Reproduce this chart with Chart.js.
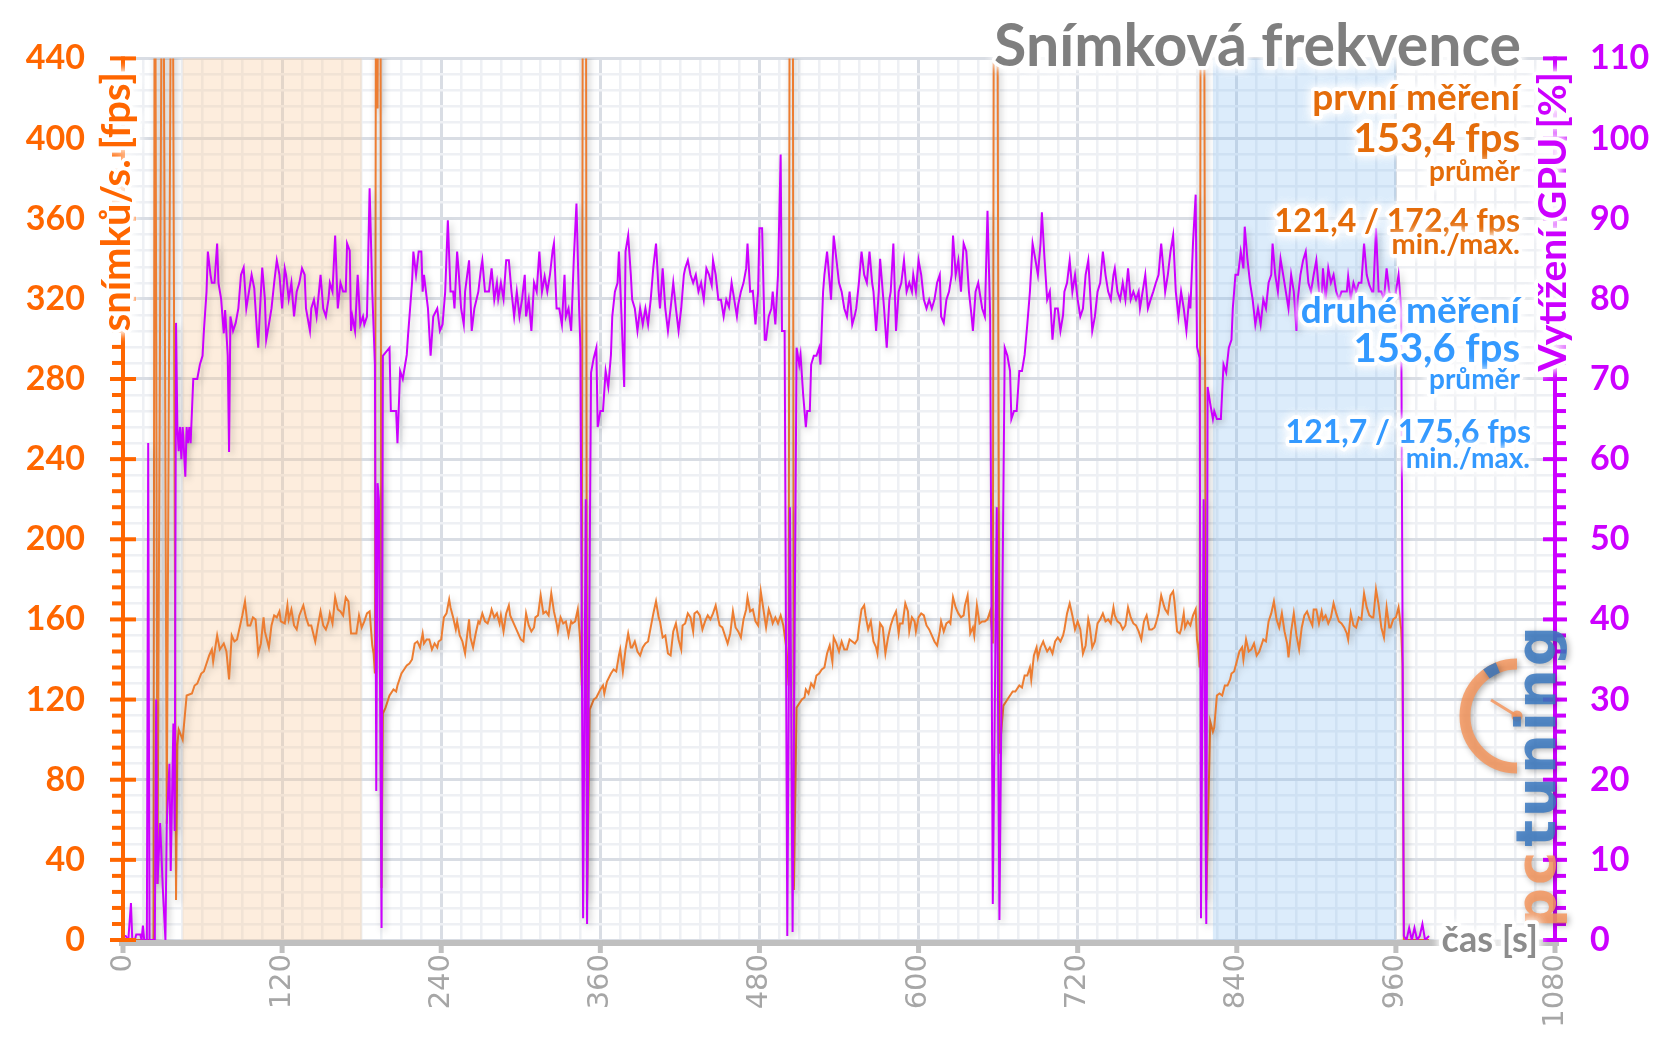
<!DOCTYPE html>
<html>
<head>
<meta charset="utf-8">
<script src="https://cdn.jsdelivr.net/npm/chart.js@4.4.1/dist/chart.umd.min.js"></script>
<style>
html,body{margin:0;padding:0;background:#fff;}
canvas{display:block;}
</style>
</head>
<body>
<canvas id="c" width="1656" height="1044"></canvas>
<script>
// ---- data ----
const fpsTime = [0,5,10,15,20,23,24,26,30,33,37,40,41,42,45,48,52,54,56,59,61,63,65,67,68,71,73,76,78,80,82,84,86,88,90,92,94,96,98,100,102,104,106,107,110,112,114,116,118,119,122,124,125,127,129,131,133,136,138,140,142,145,147,149,151,153,155,156,158,160,162,164,166,168,170,172,174,176,178,180,182,184,186,188,189,190,191,192,193,194,195,196,198,201,204,206,207,210,212,214,216,218,220,222,224,226,227,229,231,233,235,237,238,240,242,244,246,247,249,251,252,254,256,258,259,261,262,264,266,268,269,271,273,275,277,278,280,282,284,285,287,289,291,292,294,296,298,300,302,304,306,308,310,311,313,315,317,319,321,323,325,327,328,330,332,334,336,338,339,341,343,345,346,347,349,350,352,355,357,360,362,363,365,368,370,372,374,375,377,379,381,383,384,386,388,390,392,394,396,398,400,402,404,405,407,409,411,413,415,417,419,421,422,424,426,428,430,431,433,435,437,439,441,443,445,447,449,450,452,454,456,458,460,462,464,466,468,470,471,473,475,477,479,481,483,485,487,489,490,492,494,496,498,500,502,503,505,506,508,510,512,514,515,517,519,521,523,525,527,529,531,533,535,536,538,540,542,544,546,548,550,552,554,555,557,559,560,562,564,566,568,569,571,573,575,577,579,581,583,585,586,588,590,592,593,595,597,598,600,602,604,606,608,610,612,614,616,617,619,621,623,624,626,628,630,632,634,635,637,639,641,642,644,646,648,650,652,654,655,656,657,659,661,664,667,669,671,673,674,676,678,680,682,684,685,687,689,690,692,694,695,697,699,701,703,705,707,709,710,712,714,716,718,720,722,724,726,728,729,731,733,735,737,739,741,743,745,747,748,750,752,754,756,758,760,762,764,766,768,770,772,774,776,778,779,781,783,785,786,788,790,792,793,795,797,798,800,801,803,805,807,809,810,811,812,813,815,817,820,822,823,825,827,829,831,833,835,836,838,840,842,844,845,847,849,851,853,855,857,859,860,862,864,866,868,870,872,874,876,878,879,881,883,885,887,889,891,893,895,897,898,900,902,904,905,907,909,911,913,915,917,919,921,923,924,926,928,930,932,934,936,938,940,942,943,945,947,949,951,953,955,956,958,960,962,964,965,966,970,975,980,985];
const fpsValues = [0,0,0,0,0,0,600,28,600,58,600,20,97,105,100,122,123,127,128,133,134,138,142,145,139,152,145,148,144,130,152,149,150,156,162,169,157,157,161,160,143,148,161,154,146,157,162,161,164,159,158,167,160,165,157,155,162,167,161,157,157,149,157,164,157,155,159,163,158,171,165,164,162,171,169,153,153,153,162,156,159,163,164,147,143,133,600,415,600,600,26,113,116,122,125,124,127,133,135,137,138,140,148,149,146,153,148,150,150,145,148,146,149,150,161,163,170,166,161,155,159,152,149,143,149,160,151,146,153,159,158,163,159,158,162,165,161,163,158,162,154,163,167,162,159,156,153,150,149,163,157,154,156,161,162,172,163,164,162,173,164,158,154,161,158,159,152,159,158,159,165,148,127,600,600,20,115,120,121,125,127,123,129,133,135,134,142,145,134,145,153,146,146,149,144,142,146,148,149,156,163,169,161,159,151,152,143,142,154,158,150,145,157,158,163,161,154,163,164,162,155,159,162,160,163,167,160,157,156,152,148,153,164,156,154,151,160,165,171,164,165,159,157,174,165,156,165,161,158,161,158,162,157,147,127,600,600,25,116,118,120,121,125,123,128,126,132,133,135,136,143,147,139,151,148,144,149,145,145,150,149,148,150,156,165,167,162,155,159,149,146,143,158,156,143,151,157,161,164,153,158,158,168,164,154,161,159,154,161,163,162,157,155,152,149,147,154,159,154,158,159,158,171,166,163,161,162,167,172,153,156,152,167,158,159,159,160,164,157,148,600,600,93,117,120,122,124,124,125,127,126,132,132,136,130,142,146,141,146,149,147,144,146,143,149,151,149,152,155,163,168,162,155,159,155,143,147,160,157,146,149,158,160,163,159,160,158,166,162,159,158,155,157,166,161,158,157,154,150,159,162,155,155,156,158,163,172,167,165,163,172,174,169,154,153,155,163,156,159,157,162,165,150,145,136,600,600,20,109,104,106,122,123,122,127,127,130,133,134,139,144,146,140,150,144,145,148,142,144,148,150,149,159,163,169,160,156,163,154,148,141,154,163,152,145,156,162,164,160,157,165,165,158,164,160,162,158,161,168,163,159,158,156,153,150,163,157,156,161,160,173,166,162,161,161,175,167,156,151,166,156,156,160,161,166,155,137,0,0,0,0,0];

const gpuTime = [0,2,4,6,7,9,10,13,14,15,16,18,19,20,22,24,25,26,28,30,32,33,35,36,38,39,40,41,42,43,44,45,46,47,48,49,50,51,53,56,58,60,61,63,64,66,67,69,71,72,74,76,77,79,80,81,83,85,87,89,91,93,95,97,99,101,102,103,105,107,108,110,112,114,116,118,120,122,123,125,127,129,131,133,135,137,138,141,142,144,146,149,151,153,155,156,158,160,162,164,166,168,169,171,172,173,175,177,179,181,182,184,186,188,190,191,192,193,195,196,201,202,206,207,209,211,214,215,218,219,221,223,225,226,227,230,232,234,237,239,241,243,245,247,249,250,252,253,255,257,258,261,263,265,268,270,271,273,276,278,280,282,283,285,287,289,291,293,295,297,299,301,303,304,306,308,310,312,314,316,318,320,322,324,325,327,329,331,333,334,336,338,340,342,344,345,347,349,350,353,355,357,358,360,362,364,366,368,369,371,373,374,376,378,379,381,383,384,386,388,390,392,394,396,398,400,402,404,405,407,409,411,413,415,417,419,421,423,424,426,428,430,432,434,436,438,440,442,444,445,447,449,451,453,455,457,459,461,463,464,466,468,470,471,473,475,477,479,480,482,484,485,487,489,490,492,494,496,497,499,501,503,505,508,510,511,513,515,516,518,519,521,523,525,526,528,529,531,533,534,536,538,540,542,544,546,548,550,552,553,555,557,559,561,563,565,566,568,570,571,574,576,578,579,581,583,585,587,589,591,593,595,596,598,600,602,604,606,608,610,612,614,616,617,619,621,623,625,626,628,630,632,634,636,638,640,641,643,645,646,648,650,652,654,656,659,661,665,667,669,670,672,674,676,678,680,682,684,686,688,690,692,693,695,697,699,701,703,705,707,709,710,712,714,716,718,720,722,724,726,728,729,731,733,735,737,739,741,743,745,747,748,750,752,754,756,758,760,762,764,766,767,769,771,773,775,777,779,781,783,785,786,788,790,792,794,796,798,800,802,804,805,807,809,810,812,813,815,817,818,820,822,823,825,826,828,830,832,834,836,837,839,841,843,845,846,848,850,852,854,856,858,860,862,864,866,867,869,871,873,875,877,879,881,883,885,886,888,890,892,894,896,898,900,902,904,905,907,909,911,913,915,917,919,921,923,924,926,928,930,932,934,936,938,940,942,943,945,947,949,951,953,955,957,959,960,962,964,966,968,970,972,974,976,978,980,982,985];
const gpuValues = [0.5,0.5,0,4.6,0,0,0.7,0.7,0,1.8,0,0,62,0,0,0,30,7,14.6,6.5,0,14.6,22,8.6,27,13.6,77,64,61,64,60,64,61,57.8,64,62,64,62,70,70,71.8,72.9,76,80.9,85.9,83,82,82,86.9,82,80,75.7,78.6,72.9,60.9,77.8,76,77,78.8,83,83.9,78.8,80.9,83,81.3,76,73.9,77.6,83.9,80,74.9,76.8,78.8,82,84.8,83,78.8,83.8,83,80,82,77.8,80.9,82,83.8,83,78.8,76,78.8,79.9,77.8,83,78.8,77.8,80,82,80.9,87.9,78.8,82,80.9,80.9,86.9,86,76,77.8,76,83,76.8,77.8,76.8,77.8,93.8,80.9,71.8,18.6,57,55,1.5,72.9,73.9,66,66,62,71,70,73,75.5,82,85.9,83,85.9,85.9,80.9,83,78.8,72.9,77.8,78.8,76,76.8,80.9,89.8,80.9,80.9,78.8,85.9,83.8,78.8,76.8,80.9,84.8,76,78.8,80.9,83.8,84.8,80.9,80.9,83.8,79.9,82,80,82,80,84.8,84.8,80.9,77.8,80.9,77.8,80,83,77.8,79.9,76,82,80.9,85.9,80.9,82.8,80.9,83,86,86.9,78.8,78.8,76.8,83,77.8,78.8,76,85,91.9,78.8,73.9,2.7,55,2,70.8,72.6,73.9,64,66,66,71,69,73,77.8,80.9,82,85.9,77.8,69,85.9,87.9,83,79.9,78.8,76,78.8,76.8,78.8,76.8,79.9,84,86.9,80.9,78.8,83.8,78.8,76,78.8,82,78.8,76,78.8,83,83.8,84.8,83,82,83,80.9,82,79.9,83.8,83,81.7,84.8,83,79.9,79.9,77.8,79.9,79,82,79.9,77.8,79.3,80.9,82,83.8,86.9,80.9,81,76.8,80.9,88.8,88.8,74.9,74.9,77.8,78.8,80.9,76.8,83,98,76,76,0.5,54,1,73.9,71.8,73,68,64,66,66,71.8,72.9,72.9,73.9,71.8,80.9,83,85.9,82,79.9,87.9,85,82,80.9,78.8,77.8,80.9,76.8,78,78.8,82,85.9,83,82,85.9,82,80.9,76,80.9,85,78.8,73.9,79.9,80.9,86.9,76,80.9,82,84.8,80.9,82,80.9,83,80.9,84.8,83,79.9,78.8,79.9,78.8,79.9,82,83,77.8,77,79.9,80.9,83,87.9,83,84.8,80.9,86.9,85.9,80.9,77.8,76,80.9,82,80.9,78.8,77.8,91,77.8,4.5,54,2.5,73.9,72.9,71,65,66,66,71,71,73,76.8,80.9,86.9,85,83,86.9,90.8,85,79.9,80.9,74.9,78.8,78.8,76,78,80.9,82,84.8,80.9,83,79.9,77.8,78.8,83,84.8,82,76,77.8,80.9,82,85.9,83,80.9,79.9,83,83.8,80.9,79.9,82,79.9,83.8,79.9,80.9,79.9,80.9,78.8,80.9,83,78.8,79.9,80.9,82,83,86.9,83,80.9,83,85.9,87.9,80.9,77.8,80.9,78.8,76,79.9,78.8,87,93,74,72.6,2.7,55,2,69,66.9,65,66,65,65,65,71.8,70.8,73.9,74.9,78.8,83,83,85.9,83.8,89,85,82,79.9,76.8,78.8,76.8,79.9,78.8,82,83,86.9,83,80.9,85,83,80.9,78.8,83,80.9,76,79.9,83,84.8,85.9,82,80.9,83,84.8,80.9,79.9,83.8,79.9,83.8,82,83,80.9,79.9,80.9,80.9,80.9,82.8,80,82,80.9,82,82,86.9,83,81.7,80.9,80.9,88.8,80.9,80.9,79.9,83.8,80.9,80,79.9,80.9,83,78.8,0.5,0,1.5,0,1.5,0,0.5,2,0,0.5];

const xTickLabels = [0,120,240,360,480,600,720,840,960,1080];
const fpsTickLabels = [0,40,80,120,160,200,240,280,320,360,400,440];
const gpuTickLabels = [0,10,20,30,40,50,60,70,80,90,100,110];
const bandStart = [45, 822];
const bandEnd = [180, 960];

const titleText = 'Snímková frekvence';
const run1Lines = ['první měření', '153,4 fps', 'průměr', '121,4 / 172,4 fps', 'min./max.'];
const run2Lines = ['druhé měření', '153,6 fps', 'průměr', '121,7 / 175,6 fps', 'min./max.'];
const fpsAxisTitle = 'snímků/s. [fps]';
const gpuAxisTitle = 'Vytížení GPU [%]';
const timeAxisTitle = 'čas [s]';

// ---- helpers ----
function glowText(ctx, text, x, y, color, font, align, baseline) {
  ctx.save();
  ctx.font = font;
  ctx.textAlign = align;
  ctx.textBaseline = baseline || 'alphabetic';
  ctx.lineJoin = 'round';
  ctx.shadowColor = 'rgba(255,255,255,1)';
  ctx.shadowBlur = 10;
  ctx.strokeStyle = 'rgba(255,255,255,0.95)';
  ctx.lineWidth = 7;
  ctx.strokeText(text, x, y);
  ctx.strokeText(text, x, y);
  ctx.shadowBlur = 0;
  ctx.fillStyle = color;
  ctx.fillText(text, x, y);
  ctx.restore();
}

const ORANGE_AX = '#FF6600';
const MAGENTA = '#CC00FF';
const GRAY_AX = '#BFBFBF';

const decor = {
  id: 'decor',
  beforeDatasetsDraw(chart) {
    const {ctx, chartArea: a, scales: {x}} = chart;
    const cols = ['rgba(250,200,150,0.32)', 'rgba(120,180,240,0.26)'];
    ctx.save();
    bandStart.forEach((s, i) => {
      const x1 = x.getPixelForValue(s), x2 = x.getPixelForValue(bandEnd[i]);
      ctx.fillStyle = cols[i];
      ctx.fillRect(x1, a.top, x2 - x1, a.bottom - a.top);
    });
    ctx.restore();
  },
  beforeDatasetDraw(chart) {
    const ctx = chart.ctx;
    ctx.save();
    ctx.shadowColor = 'rgba(0,0,0,0.28)';
    ctx.shadowBlur = 7;
    ctx.shadowOffsetX = 2;
    ctx.shadowOffsetY = 3;
  },
  afterDatasetDraw(chart) {
    chart.ctx.restore();
  },
  afterDraw(chart) {
    const {ctx, chartArea: a, scales: {x, y, y1}} = chart;
    ctx.save();
    // x axis
    ctx.strokeStyle = GRAY_AX;
    ctx.lineWidth = 6;
    ctx.beginPath(); ctx.moveTo(a.left - 4, a.bottom + 3); ctx.lineTo(a.right + 4, a.bottom + 3); ctx.stroke();
    ctx.lineWidth = 5;
    xTickLabels.forEach(v => {
      const px = x.getPixelForValue(v);
      ctx.beginPath(); ctx.moveTo(px, a.bottom); ctx.lineTo(px, a.bottom + 13); ctx.stroke();
    });
    // left axis
    ctx.strokeStyle = ORANGE_AX;
    ctx.lineWidth = 4;
    ctx.beginPath(); ctx.moveTo(a.left, a.top - 2); ctx.lineTo(a.left, a.bottom + 2); ctx.stroke();
    for (let v = 0; v <= 440; v += 8) {
      const py = y.getPixelForValue(v);
      const major = v % 40 === 0;
      ctx.beginPath();
      ctx.moveTo(major ? a.left - 13 : a.left - 11, py);
      ctx.lineTo(major ? a.left + 13 : a.left, py);
      ctx.stroke();
    }
    // right axis
    ctx.strokeStyle = MAGENTA;
    ctx.beginPath(); ctx.moveTo(a.right, a.top - 2); ctx.lineTo(a.right, a.bottom + 2); ctx.stroke();
    for (let v = 0; v <= 110; v += 2) {
      const py = y1.getPixelForValue(v);
      const major = v % 10 === 0;
      ctx.beginPath();
      ctx.moveTo(major ? a.right - 12 : a.right, py);
      ctx.lineTo(major ? a.right + 12 : a.right + 11, py);
      ctx.stroke();
    }
    ctx.restore();

    // logo (pctuning watermark)
    ctx.save();
    ctx.globalAlpha = 0.85;
    ctx.shadowColor = 'rgba(0,0,0,0.35)';
    ctx.shadowBlur = 6; ctx.shadowOffsetX = 2; ctx.shadowOffsetY = 2;
    ctx.strokeStyle = '#F4965E';
    ctx.lineWidth = 11;
    ctx.beginPath(); ctx.arc(1517, 716, 52, -Math.PI / 2, Math.PI / 2, true); ctx.stroke();
    ctx.strokeStyle = '#3A78C0'; ctx.lineWidth = 11;
    ctx.beginPath(); ctx.arc(1517, 716, 52, -Math.PI * 0.62, -Math.PI * 0.70, true); ctx.stroke();
    ctx.strokeStyle = '#F4965E'; ctx.lineWidth = 3;
    ctx.beginPath(); ctx.moveTo(1491, 700); ctx.lineTo(1517, 716); ctx.stroke();
    ctx.fillStyle = '#F4965E';
    ctx.beginPath(); ctx.arc(1517, 716, 5.5, 0, Math.PI * 2); ctx.fill();
    ctx.translate(1555, 928);
    ctx.rotate(-Math.PI / 2);
    ctx.font = 'bold 56px "DejaVu Sans"';
    ctx.letterSpacing = '3px';
    ctx.textAlign = 'left';
    ctx.textBaseline = 'alphabetic';
    ctx.fillStyle = '#F4965E';
    ctx.fillText('pc', 0, 0);
    const w = ctx.measureText('pc').width;
    ctx.fillStyle = '#3A78C0';
    ctx.fillText('tuning', w + 2, 0);
    ctx.restore();

    // axis titles
    ctx.save();
    ctx.translate(117, 72); ctx.rotate(-Math.PI / 2);
    glowText(ctx, fpsAxisTitle, 0, 0, ORANGE_AX, 'bold 40px Lato', 'right', 'middle');
    ctx.restore();
    ctx.save();
    ctx.translate(1553, 72); ctx.rotate(-Math.PI / 2);
    glowText(ctx, gpuAxisTitle, 0, 0, MAGENTA, 'bold 39px Lato', 'right', 'middle');
    ctx.restore();
    glowText(ctx, timeAxisTitle, 1538, 952, '#8C8C8C', 'bold 36px Lato', 'right');

    // title
    glowText(ctx, titleText, 1521, 66, '#7F7F7F', 'bold 59px Lato', 'right');

    // annotations
    const oc = '#E46C0A', bc = '#3399FF';
    glowText(ctx, run1Lines[0], 1520, 110, oc, 'bold 37px Lato', 'right');
    glowText(ctx, run1Lines[1], 1520, 152, oc, 'bold 40px Lato', 'right');
    glowText(ctx, run1Lines[2], 1520, 181, oc, 'bold 28px Lato', 'right');
    glowText(ctx, run1Lines[3], 1520, 232, oc, 'bold 32px Lato', 'right');
    glowText(ctx, run1Lines[4], 1520, 254, oc, 'bold 29px Lato', 'right');
    glowText(ctx, run2Lines[0], 1520, 323, bc, 'bold 37px Lato', 'right');
    glowText(ctx, run2Lines[1], 1520, 362, bc, 'bold 40px Lato', 'right');
    glowText(ctx, run2Lines[2], 1520, 389, bc, 'bold 28px Lato', 'right');
    glowText(ctx, run2Lines[3], 1531, 443, bc, 'bold 32px Lato', 'right');
    glowText(ctx, run2Lines[4], 1530, 468, bc, 'bold 28px Lato', 'right');
  }
};

const toPts = (ts, vs) => ts.map((t, i) => ({x: t, y: vs[i]}));

new Chart(document.getElementById('c'), {
  type: 'line',
  data: {
    datasets: [
      {label: 'GPU', data: toPts(gpuTime, gpuValues), yAxisID: 'y1', borderColor: '#CC00FF', borderWidth: 2, pointRadius: 0, tension: 0, fill: false},
      {label: 'FPS', data: toPts(fpsTime, fpsValues), yAxisID: 'y', borderColor: '#ED7D31', borderWidth: 2, pointRadius: 0, tension: 0, fill: false}
    ]
  },
  options: {
    responsive: false,
    animation: false,
    devicePixelRatio: 1,
    layout: {padding: {top: 55, left: 0, right: 0, bottom: 0}},
    plugins: {legend: {display: false}, tooltip: {enabled: false}},
    scales: {
      x: {
        type: 'linear', min: 0, max: 1080,
        border: {display: false},
        grid: {
          drawTicks: false,
          color: c => (c.tick && c.tick.value % 120 === 0) ? '#D9DDE4' : '#EEF0F4',
          lineWidth: c => (c.tick && c.tick.value % 120 === 0) ? 3 : 2.5
        },
        ticks: {
          stepSize: 15, autoSkip: false, minRotation: 90, maxRotation: 90,
          padding: 14, color: '#A6A6A6',
          font: {family: '"DejaVu Sans"', size: 29},
          callback: v => xTickLabels.includes(v) ? String(v) : ''
        },
        afterFit: s => { s.height = 104; }
      },
      y: {
        position: 'left', min: 0, max: 440,
        border: {display: false},
        grid: {
          drawTicks: false,
          color: c => (c.tick && c.tick.value % 40 === 0) ? '#D9DDE4' : '#EEF0F4',
          lineWidth: c => (c.tick && c.tick.value % 40 === 0) ? 3 : 2.5
        },
        ticks: {
          stepSize: 8, autoSkip: false, padding: 38, color: ORANGE_AX,
          font: {family: 'Lato', weight: 'bold', size: 34},
          callback: v => fpsTickLabels.includes(v) ? String(v) : ''
        },
        afterFit: s => { s.width = 123; }
      },
      y1: {
        position: 'right', min: 0, max: 110,
        border: {display: false},
        grid: {drawOnChartArea: false, drawTicks: false},
        ticks: {
          stepSize: 2, autoSkip: false, padding: 35, color: MAGENTA,
          font: {family: 'Lato', weight: 'bold', size: 34},
          callback: v => gpuTickLabels.includes(v) ? String(v) : ''
        },
        afterFit: s => { s.width = 101; }
      }
    }
  },
  plugins: [decor]
});
</script>
</body>
</html>
